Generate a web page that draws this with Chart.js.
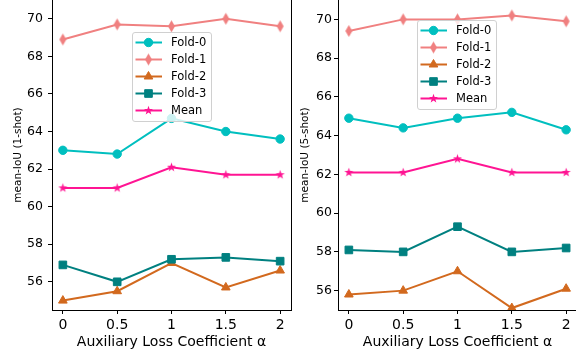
<!DOCTYPE html>
<html>
<head>
<meta charset="utf-8">
<script src="https://cdn.jsdelivr.net/npm/chart.js@4.4.1/dist/chart.umd.min.js"></script>
<style>
  html, body { margin: 0; padding: 0; background: #fff; overflow: hidden; width: 576px; height: 356px; }
  #c1 { position: absolute; left: 0; top: 0; }
  #c2 { position: absolute; left: 296px; top: 0; }
</style>
</head>
<body>
<canvas id="c1" width="296" height="356"></canvas>
<canvas id="c2" width="290" height="356"></canvas>
<script>
// x values and ticks
const alphas = [0, 0.5, 1, 1.5, 2];
const xTickLabels = ['0', '0.5', '1', '1.5', '2'];
const yTicks = [56, 58, 60, 62, 64, 66, 68, 70];
const seriesNames = ['Fold-0', 'Fold-1', 'Fold-2', 'Fold-3', 'Mean'];

// 1-shot
const oneShotFold0 = [63.0, 62.8, 64.7, 64.0, 63.6];
const oneShotFold1 = [68.9, 69.7, 69.6, 70.0, 69.6];
const oneShotFold2 = [55.0, 55.5, 57.0, 55.7, 56.6];
const oneShotFold3 = [56.9, 56.0, 57.2, 57.3, 57.1];
const oneShotMean  = [61.0, 61.0, 62.1, 61.7, 61.7];

// 5-shot
const fiveShotFold0 = [64.9, 64.4, 64.9, 65.2, 64.3];
const fiveShotFold1 = [69.4, 70.0, 70.0, 70.2, 69.9];
const fiveShotFold2 = [55.8, 56.0, 57.0, 55.1, 56.1];
const fiveShotFold3 = [58.1, 58.0, 59.3, 58.0, 58.2];
const fiveShotMean  = [62.1, 62.1, 62.8, 62.1, 62.1];

const seriesColors = ['#00bfbf', '#f08080', '#d2691e', '#008080', '#ff1493'];

Chart.defaults.font.family = 'DejaVu Sans';
Chart.defaults.color = '#000';

// custom marker images (thin diamond, filled star)
function thinDiamond(color) {
  const c = document.createElement('canvas');
  c.width = 9; c.height = 14;
  const g = c.getContext('2d');
  g.fillStyle = color;
  g.beginPath();
  g.moveTo(4.5, 1); g.lineTo(8, 7); g.lineTo(4.5, 13); g.lineTo(1, 7);
  g.closePath(); g.fill();
  return c;
}
function star(color) {
  const c = document.createElement('canvas');
  c.width = 11; c.height = 11;
  const g = c.getContext('2d');
  g.fillStyle = color;
  g.beginPath();
  for (let k = 0; k < 10; k++) {
    const r = k % 2 === 0 ? 4.8 : 1.9;
    const a = -Math.PI / 2 + k * Math.PI / 5;
    const px = 5.5 + r * Math.cos(a), py = 5.5 + r * Math.sin(a);
    k === 0 ? g.moveTo(px, py) : g.lineTo(px, py);
  }
  g.closePath(); g.fill();
  return c;
}
const markers = [
  { style: 'circle', r: 4.2 },
  { style: thinDiamond(seriesColors[1]), r: 4 },
  { style: 'triangle', r: 5 },
  { style: 'rect', r: 5.4 },
  { style: star(seriesColors[4]), r: 4 }
];

function makeDatasets(series) {
  return seriesNames.map((name, i) => ({
    label: name,
    data: alphas.map((a, j) => ({ x: a, y: series[i][j] })),
    borderColor: seriesColors[i],
    backgroundColor: seriesColors[i],
    pointBackgroundColor: seriesColors[i],
    pointBorderColor: seriesColors[i],
    pointBorderWidth: 1,
    pointStyle: markers[i].style,
    pointRadius: markers[i].r,
    borderWidth: 2,
    tension: 0,
    fill: false,
    order: 4 - i
  }));
}

// legend drawn in a box inside the plot, like matplotlib
const boxLegend = {
  id: 'boxLegend',
  afterDraw(chart, args, o) {
    const ctx = chart.ctx;
    ctx.save();
    ctx.beginPath();
    ctx.roundRect(o.x + 0.5, o.y + 0.5, o.w, o.h, 2.5);
    ctx.fillStyle = 'rgba(255,255,255,0.8)';
    ctx.fill();
    ctx.strokeStyle = '#d0d0d0';
    ctx.lineWidth = 1;
    ctx.stroke();
    chart.data.datasets.forEach((ds, i) => {
      const cy = o.y + 10.5 + i * 17;
      ctx.strokeStyle = ds.borderColor;
      ctx.lineWidth = 2;
      ctx.beginPath();
      ctx.moveTo(o.x + 3.5, cy);
      ctx.lineTo(o.x + 30, cy);
      ctx.stroke();
      const ps = ds.pointStyle;
      if (typeof ps === 'string') {
        ctx.fillStyle = ds.pointBackgroundColor;
        ctx.strokeStyle = ds.pointBorderColor;
        ctx.lineWidth = 1;
        Chart.helpers.drawPoint(ctx, { pointStyle: ps, radius: ds.pointRadius, rotation: 0, borderWidth: 1 }, o.x + 16.5, cy);
      } else {
        ctx.drawImage(ps, o.x + 16.5 - ps.width / 2, cy - ps.height / 2);
      }
      ctx.fillStyle = '#000';
      ctx.font = '11.5px "DejaVu Sans"';
      ctx.textBaseline = 'middle';
      ctx.fillText(ds.label, o.x + 39, cy + 0.5);
    });
    ctx.restore();
  }
};

// right spine
const rightSpine = {
  id: 'rightSpine',
  afterDatasetsDraw(chart) {
    const { ctx, chartArea } = chart;
    ctx.save();
    ctx.strokeStyle = '#000';
    ctx.lineWidth = 1;
    ctx.beginPath();
    const x = Math.round(chartArea.right) + 0.5;
    ctx.moveTo(x, 0);
    ctx.lineTo(x, chartArea.bottom + 0.5);
    ctx.stroke();
    ctx.restore();
  }
};

function makeChart(id, series, yTitle, yMin, yWidth, titlePad, tickPad, padRight, legendPos) {
  return new Chart(document.getElementById(id), {
    type: 'line',
    data: { datasets: makeDatasets(series) },
    plugins: [rightSpine, boxLegend],
    options: {
      responsive: false,
      animation: false,
      events: [],
      layout: { autoPadding: false, padding: { left: 0, top: 0, right: padRight, bottom: 0 } },
      scales: {
        x: {
          type: 'linear',
          min: -0.1,
          max: 2.1,
          bounds: 'data',
          afterBuildTicks: s => { s.ticks = alphas.map(v => ({ value: v })); },
          afterFit: s => { s.height = 46; s.paddingLeft = 0; s.paddingRight = 0; },
          grid: { display: true, drawOnChartArea: false, drawTicks: true, tickLength: 4, tickColor: '#000', tickWidth: 1 },
          border: { display: true, color: '#000', width: 1 },
          ticks: { font: { size: 14 }, padding: 3, maxRotation: 0, callback: (v, i) => xTickLabels[i] },
          title: { display: true, text: 'Auxiliary Loss Coefficient α', font: { size: 14 }, padding: { top: 0, bottom: 5 } }
        },
        y: {
          min: yMin,
          max: 71,
          bounds: 'data',
          afterBuildTicks: s => { s.ticks = yTicks.map(v => ({ value: v })); },
          afterFit: s => { s.width = yWidth; s.paddingTop = 0; s.paddingBottom = 0; },
          grid: { display: true, drawOnChartArea: false, drawTicks: true, tickLength: 4, tickColor: '#000', tickWidth: 1 },
          border: { display: true, color: '#000', width: 1 },
          ticks: { font: { size: 12.5 }, padding: tickPad, callback: v => String(v) },
          title: { display: true, text: yTitle, font: { size: 10.5 }, padding: { top: titlePad, bottom: 0 } }
        }
      },
      plugins: {
        legend: { display: false },
        tooltip: { enabled: false },
        boxLegend: legendPos
      }
    }
  });
}

makeChart('c1', [oneShotFold0, oneShotFold1, oneShotFold2, oneShotFold3, oneShotMean],
  'mean-IoU (1-shot)', 54.5, 52, 12, 5, 5, { x: 132, y: 32, w: 79, h: 89 });
makeChart('c2', [fiveShotFold0, fiveShotFold1, fiveShotFold2, fiveShotFold3, fiveShotMean],
  'mean-IoU (5-shot)', 55, 42, 3, 2, 9, { x: 121, y: 20, w: 79, h: 89 });
</script>
</body>
</html>
